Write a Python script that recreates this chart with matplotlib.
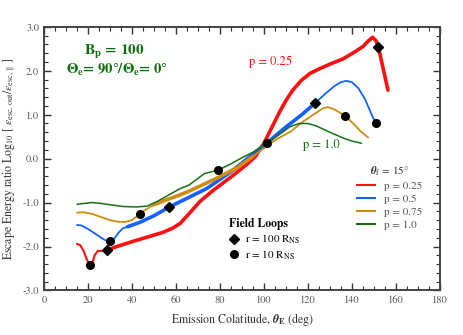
import matplotlib
matplotlib.use("Agg")
import matplotlib.pyplot as plt
from matplotlib.lines import Line2D
import numpy as np

plt.rcParams['font.family'] = ['STIXGeneral', 'DejaVu Serif']
plt.rcParams['mathtext.fontset'] = 'stix'

# p = 0.25
x_red = [15, 16.5, 18, 19.5, 20.9, 22, 23, 24.5, 26.5, 28.5, 35, 42, 48, 54, 58.6, 62, 66,
         71, 77, 85, 92, 96, 100, 104, 107, 110, 113, 117, 121, 125, 130, 136, 141,
         145, 147.5, 149.5, 151, 152, 154, 156.4]
y_red = [-1.94, -1.97, -2.1, -2.3, -2.42, -2.38, -2.2, -2.1, -2.1, -2.08, -1.97, -1.86, -1.77,
         -1.68, -1.58, -1.47, -1.25, -0.97, -0.72, -0.42, -0.14, 0.04, 0.35, 0.75, 1.05, 1.32,
         1.55, 1.78, 1.94, 2.04, 2.15, 2.27, 2.42, 2.55, 2.68, 2.76, 2.68, 2.55, 2.1, 1.56]

# p = 0.5
x_blue = [15, 17, 20, 23, 26, 28, 30, 32, 34, 36, 38, 43.6, 50, 57, 66, 74, 85, 95, 101.2,
          110, 117, 123.2, 128, 132, 135, 137.6, 140, 143, 146, 149, 150.9]
y_blue = [-1.51, -1.52, -1.6, -1.7, -1.8, -1.86, -1.88, -1.82, -1.68, -1.58, -1.55, -1.45,
          -1.3, -1.1, -0.88, -0.68, -0.3, 0.1, 0.35, 0.72, 0.99, 1.26, 1.48, 1.65, 1.74,
          1.77, 1.74, 1.6, 1.35, 1.0, 0.8]

# p = 0.75
x_orange = [15, 18, 22, 26, 30, 34, 37, 40, 42, 43.6, 46, 50, 55, 60, 66, 72, 80, 88, 95,
            101.2, 106, 112, 118, 124, 127, 129.2, 132, 136.8, 141, 144, 147.4]
y_orange = [-1.23, -1.22, -1.26, -1.33, -1.4, -1.44, -1.44, -1.4, -1.32, -1.26, -1.17, -1.05,
            -0.95, -0.86, -0.74, -0.6, -0.41, -0.2, 0.05, 0.28, 0.45, 0.61, 0.85, 1.05, 1.15,
            1.17, 1.12, 0.98, 0.78, 0.62, 0.48]

# p = 1.0
x_green = [15, 18, 22, 26, 30, 36, 42, 47, 52, 57, 62, 66, 70, 73, 79.2, 85, 90, 95.2, 101,
           107, 112, 116, 120, 124, 130, 136, 140, 144.4]
y_green = [-1.04, -1.02, -1.0, -1.02, -1.05, -1.09, -1.1, -1.08, -0.96, -0.82, -0.68, -0.6,
           -0.45, -0.34, -0.26, -0.12, 0.02, 0.15, 0.35, 0.55, 0.73, 0.8, 0.8, 0.74, 0.6,
           0.47, 0.4, 0.35]

# field loop markers
diamond_x = [28.5, 57, 123.2, 151.9]
diamond_y = [-2.08, -1.1, 1.26, 2.55]
circle_x = [20.9, 30, 43.6, 79.2, 101.2, 136.8, 150.9]
circle_y = [-2.42, -1.88, -1.26, -0.26, 0.35, 0.98, 0.8]

labels = ['p = 0.25', 'p = 0.5', 'p = 0.75', 'p = 1.0']
colors = ['#ff1010', '#1560ff', '#d08c10', '#157015']

fig = plt.figure(figsize=(4.63, 3.35), dpi=100)
ax = fig.add_axes([0.095, 0.133, 0.855, 0.787])

series = [(x_red, y_red), (x_blue, y_blue), (x_orange, y_orange), (x_green, y_green)]
base_lw = [1.5, 1.3, 1.3, 1.1]
thick = [(27, 158), (37, 126), (50, 100), None]
for (xs, ys), c, lw, rng in zip(series, colors, base_lw, thick):
    xs = np.array(xs)
    ys = np.array(ys)
    ax.plot(xs, ys, color=c, lw=lw, solid_capstyle='round', zorder=2)
    if rng is not None:
        m = (xs >= rng[0]) & (xs <= rng[1])
        ax.plot(xs[m], ys[m], color=c, lw=2.6, solid_capstyle='round', zorder=2)

ax.plot(diamond_x, diamond_y, 'D', color='black', ms=5.5, ls='none', zorder=3)
ax.plot(circle_x, circle_y, 'o', color='black', ms=5.5, ls='none', zorder=3)

ax.set_xlim(0, 180)
ax.set_ylim(-3, 3)
ax.set_xticks(np.arange(0, 181, 20))
ax.set_xticks(np.arange(0, 181, 5), minor=True)
ax.set_yticks(np.arange(-3, 3.01, 1))
ax.set_yticks(np.arange(-3, 3.01, 0.2), minor=True)
ax.set_yticklabels(['%.1f' % v for v in np.arange(-3, 3.01, 1)])
ax.tick_params(which='both', direction='in', top=True, right=True,
               labelsize=7.5, labelcolor='#555555', color='#333333')
ax.tick_params(which='major', length=5, width=1)
ax.tick_params(which='minor', length=3, width=0.8)
for s in ax.spines.values():
    s.set_color('#444444')
    s.set_linewidth(1.4)

ax.set_xlabel(r'Emission Colatitude, $\boldsymbol{\theta}_{\mathbf{E}}$ (deg)', fontsize=8.5,
              color='#333333')
ax.set_ylabel(r'Escape Energy ratio Log$_{10}$ [ $\varepsilon_{\rm esc,\,out}/\varepsilon_{\rm esc,\,\Vert}$ ]',
              fontsize=8.5, color='#333333')

green_txt = '#0b6e0b'
ax.text(31.8, 2.43, r'B$_\mathbf{p}$ = 100', color=green_txt, fontsize=11,
        fontweight='bold', ha='center', va='center')
ax.text(33, 2.02, r'Θ$_\mathbf{e}$= 90°/Θ$_\mathbf{e}$= 0°', color=green_txt,
        fontsize=10.5, fontweight='bold', ha='center', va='center')
ax.text(103, 2.2, 'p = 0.25', color='#ff1010', fontsize=9, ha='center', va='center')
ax.text(126, 0.3, 'p = 1.0', color=green_txt, fontsize=9, ha='center', va='center')

handles = [Line2D([0], [0], color=c, lw=1.5) for c in colors]
leg = ax.legend(handles, labels, loc='upper left', bbox_to_anchor=(0.78, 0.495),
                frameon=False, fontsize=8, handlelength=1.6, handletextpad=0.8,
                labelspacing=0.3, borderaxespad=0,
                title=r'$\boldsymbol{\theta}_{\rm f}$ = 15°', title_fontsize=8)
for t in leg.get_texts():
    t.set_color('#555555')
leg.get_title().set_color('#333333')
ax.add_artist(leg)

loop_handles = [Line2D([0], [0], marker='D', color='black', ls='none', ms=5.5),
                Line2D([0], [0], marker='o', color='black', ls='none', ms=5.5)]
leg2 = ax.legend(loop_handles, [r'r = 100 R$_{\rm NS}$', r'r = 10 R$_{\rm NS}$'],
                 loc='upper left', bbox_to_anchor=(0.455, 0.29), frameon=False,
                 fontsize=8, handlelength=1.0, handletextpad=0.5, labelspacing=0.2,
                 borderaxespad=0, title='Field Loops', title_fontsize=8.5,
                 alignment='left')
leg2.get_title().set_fontweight('bold')

fig.savefig('out.png', dpi=100)
